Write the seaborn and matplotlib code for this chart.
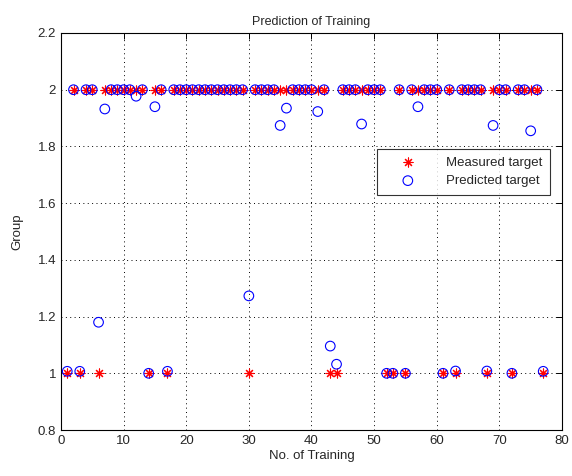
import seaborn as sns
import matplotlib.pyplot as plt
import matplotlib.ticker as mticker
import numpy as np

samples = list(range(1, 78))

measured = [
    1, 2, 1, 2, 2, 1, 2, 2, 2, 2,
    2, 2, 2, 1, 2, 2, 1, 2, 2, 2,
    2, 2, 2, 2, 2, 2, 2, 2, 2, 1,
    2, 2, 2, 2, 2, 2, 2, 2, 2, 2,
    2, 2, 1, 1, 2, 2, 2, 2, 2, 2,
    2, 1, 1, 2, 1, 2, 2, 2, 2, 2,
    1, 2, 1, 2, 2, 2, 2, 1, 2, 2,
    2, 1, 2, 2, 2, 2, 1]

predicted = [
    1.007, 2, 1.007, 2, 2, 1.18, 1.932, 2, 2, 2,
    2, 1.977, 2, 1.0, 1.94, 2, 1.007, 2, 2, 2,
    2, 2, 2, 2, 2, 2, 2, 2, 2, 1.273,
    2, 2, 2, 2, 1.874, 1.935, 2, 2, 2, 2,
    1.923, 2, 1.096, 1.032, 2, 2, 2, 1.879, 2, 2,
    2, 1.0, 1.0, 2, 1.0, 2, 1.94, 2, 2, 2,
    1.0, 2, 1.008, 2, 2, 2, 2, 1.008, 1.874, 2,
    2, 1.0, 2, 2, 1.855, 2, 1.007]

sns.set_style('white')
plt.rcParams['font.family'] = ['Liberation Sans', 'DejaVu Sans']

fig = plt.figure(figsize=(5.72, 4.76), dpi=100)
ax = fig.add_axes([0.1066, 0.0966, 0.8759, 0.8341])

sns.scatterplot(x=samples, y=measured, ax=ax, marker=(8, 2, 0), s=42,
                color='red', linewidth=0.8, label='Measured target', zorder=3)
sns.scatterplot(x=samples, y=predicted, ax=ax, marker='o', s=48,
                facecolor='none', edgecolor='blue', linewidth=0.8,
                label='Predicted target', zorder=4)

ax.set_xlim(0, 80)
ax.set_ylim(0.8, 2.2)
ax.xaxis.set_major_locator(mticker.MultipleLocator(10))
ax.yaxis.set_major_locator(mticker.MultipleLocator(0.2))
ax.yaxis.set_major_formatter(mticker.FormatStrFormatter('%g'))
ax.grid(True, linestyle=(0, (1, 3.5)), color='black', linewidth=0.7)
ax.tick_params(direction='in', top=True, right=True, length=4,
               labelsize=9.5, width=0.7, color='black')
for sp in ax.spines.values():
    sp.set_color('black')
    sp.set_linewidth(0.8)

ax.set_title('Prediction of Training', fontsize=9)
ax.set_xlabel('No. of Training', fontsize=9.5, labelpad=2)
ax.set_ylabel('Group', fontsize=9.5, labelpad=10)

leg = ax.legend(loc='upper right', bbox_to_anchor=(0.99, 0.725),
                fontsize=9.5, frameon=True, fancybox=False,
                borderpad=0.6, labelspacing=0.45, handlelength=3.4,
                handletextpad=1.2)
leg.get_frame().set_edgecolor('black')
leg.get_frame().set_linewidth(0.8)

fig.savefig('out.png', dpi=100)
